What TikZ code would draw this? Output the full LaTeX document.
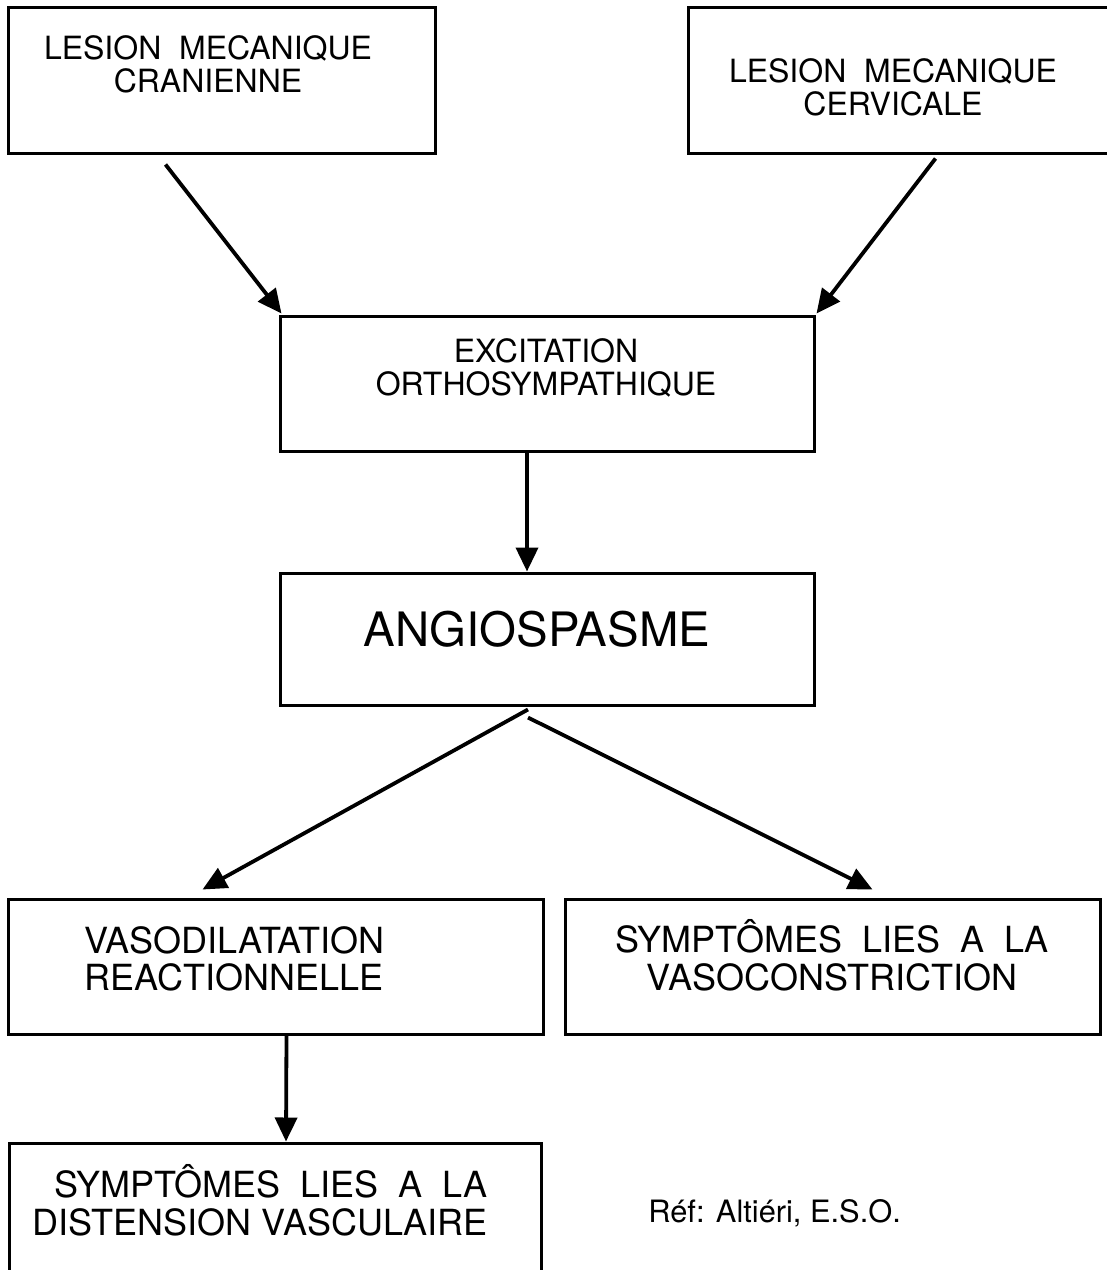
\documentclass[tikz,border=0pt]{standalone}
\usepackage{fontspec}
\setmainfont{TeX Gyre Heros}
\usetikzlibrary{arrows.meta,fit}

\begin{document}
\begin{tikzpicture}[x=0.5pt,y=-0.5pt]
      \tikzstyle{boite}=[draw, line width=1.5pt, inner sep=0pt]
      \tikzstyle{petit}=[inner sep=0pt, align=center, font=\fontsize{16}{16.5}\selectfont]
      \tikzstyle{moyen}=[inner sep=0pt, font=\fontsize{18}{18.8}\selectfont]
      \tikzstyle{fleche}=[-{Triangle[length=12pt,width=11pt]}, line width=1.9pt]

      \useasboundingbox (0,0) rectangle (1107,1270);

      % les cadres
      \node[boite, fit={(8,7) (435,153)}] (cran) {};
      \node[boite, fit={(688,7) (1120,153)}] (cerv) {};
      \node[boite, fit={(280,316) (814,451)}] (exc) {};
      \node[boite, fit={(280,573) (814,705)}] (ang) {};
      \node[boite, fit={(8,899) (543,1034)}] (vaso) {};
      \node[boite, fit={(565,899) (1100,1034)}] (symp) {};
      \node[boite, fit={(9,1143) (541,1300)}] (dist) {};

      % les textes
      \node[petit] (tcran) at (208,64.5) {LESION\ \ MECANIQUE\\CRANIENNE};
      \node[petit] (tcerv) at (893,87) {LESION\ \ MECANIQUE\\CERVICALE};
      \node[petit] (texc) at (546,367.5) {EXCITATION\\ORTHOSYMPATHIQUE};
      \node[inner sep=0pt, anchor=base, font=\fontsize{23.7}{24}\selectfont] (tang) at (537,646) {ANGIOSPASME};
      \node[moyen, align=left, anchor=west] (tvaso) at (84,959) {VASODILATATION\\REACTIONNELLE};
      \node[moyen, align=center] (tsymp) at (832,955) {SYMPTÔMES\ \ LIES\ \ A\ \ LA\\VASOCONSTRICTION};
      \node[moyen, align=right, anchor=east] (tdist) at (488,1200) {SYMPTÔMES\ \ LIES\ \ A\ \ LA\\DISTENSION VASCULAIRE};
      \node[inner sep=0pt, anchor=base west, font=\fontsize{15.4}{16}\selectfont] (ref) at (648,1222) {Réf: Altiéri, E.S.O.};

      % les fleches
      \draw[fleche] ([shift={(-56,10)}]cran.south) -- ([shift={(3,-1)}]exc.north west);
      \draw[fleche] ([shift={(249,4)}]cerv.south west) -- ([shift={(1,-1)}]exc.north east);
      \draw[fleche] ([shift={(-20,0)}]exc.south) -- ([shift={(-20,0)}]ang.north);
      \draw[fleche] ([shift={(-19,3)}]ang.south) -- ([shift={(-73,-8)}]vaso.north);
      \draw[fleche] ([shift={(-19,11)}]ang.south) -- ([shift={(40,-8)}]symp.north);
      \draw[fleche] ([shift={(11,0)}]vaso.south) -- ([shift={(11,0)}]dist.north);

    \end{tikzpicture}
\end{document}
